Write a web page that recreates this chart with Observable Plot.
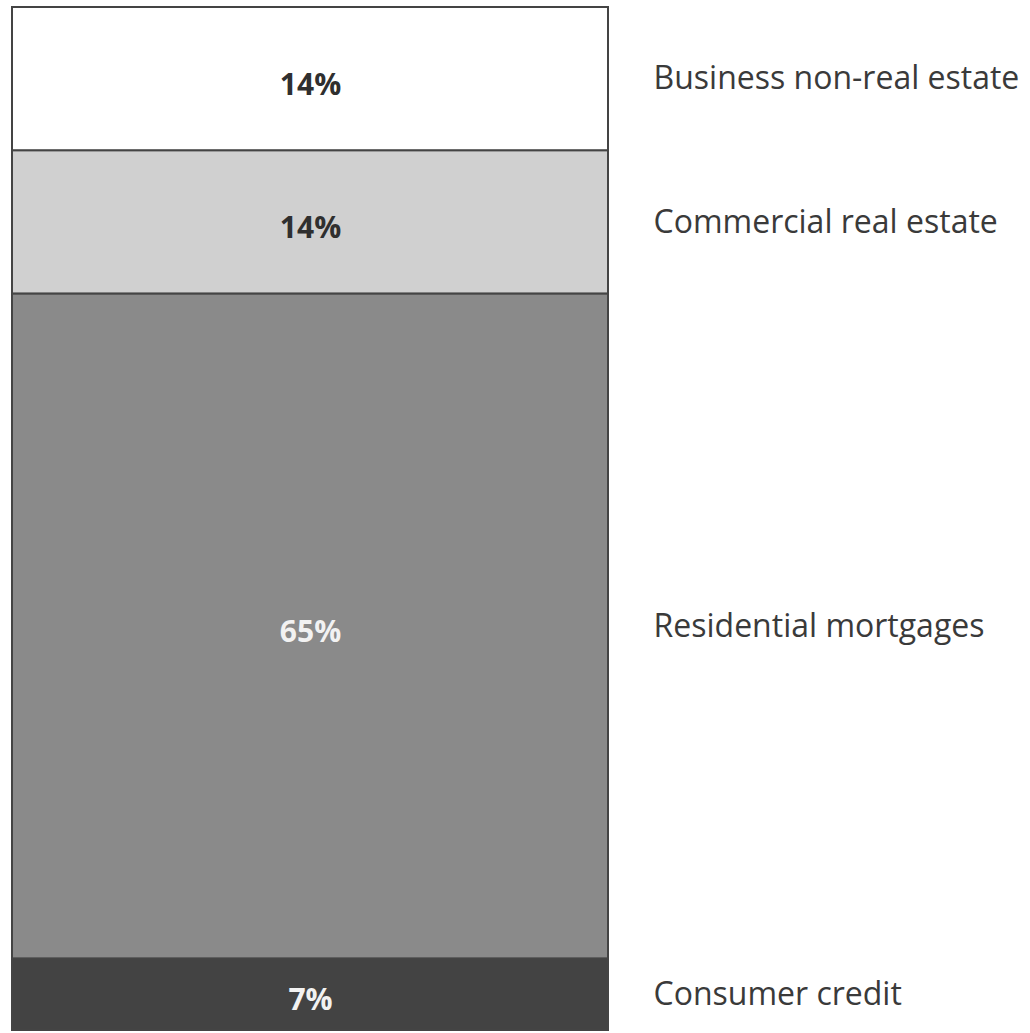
<!DOCTYPE html>
<html>
<head>
<meta charset="utf-8">
<script src="https://cdn.jsdelivr.net/npm/d3@7"></script>
<script src="https://cdn.jsdelivr.net/npm/@observablehq/plot@0.6"></script>
<style>
  html, body { margin: 0; padding: 0; background: #fff; }
  #chart svg { display: block; }
</style>
</head>
<body>
<div id="chart"></div>
<script>
// Data (bottom to top)
const categories = ["Consumer credit", "Residential mortgages", "Commercial real estate", "Business non-real estate"];
const shares = [7, 65, 14, 14];
const fills = ["#434343", "#8a8a8a", "#d0d0d0", "#ffffff"];
const labelColors = ["#f2f2f2", "#f2f2f2", "#2f2f2f", "#2f2f2f"];

const data = categories.map((c, i) => ({
  group: "All",
  category: c,
  value: shares[i],
  label: shares[i] + "%"
}));

const chart = Plot.plot({
  width: 1030,
  height: 1033,
  marginLeft: 12,
  marginRight: 422,
  marginTop: 7,
  marginBottom: 3,
  x: { axis: null, padding: 0, domain: ["All"] },
  y: { axis: null, domain: [0, 100] },
  color: { domain: categories, range: fills },
  marks: [
    Plot.barY(data, Plot.stackY({
      x: "group",
      y: "value",
      fill: "category",
      stroke: "#444",
      strokeWidth: 2,
      order: null
    })),
    Plot.text(data, Plot.stackY({
      x: "group",
      y: "value",
      order: null,
      text: "label",
      fill: (d) => labelColors[categories.indexOf(d.category)],
      fontSize: 30,
      fontWeight: "bold",
      fontFamily: "Open Sans, sans-serif",
      dy: 6
    })),
    Plot.text(data, Plot.stackY({
      x: "group",
      y: "value",
      order: null,
      text: "category",
      dx: 343,
      textAnchor: "start",
      fill: "#3a3a3a",
      fontSize: 32,
      fontFamily: "Open Sans, sans-serif"
    }))
  ]
});

document.getElementById("chart").appendChild(chart);
</script>
</body>
</html>
